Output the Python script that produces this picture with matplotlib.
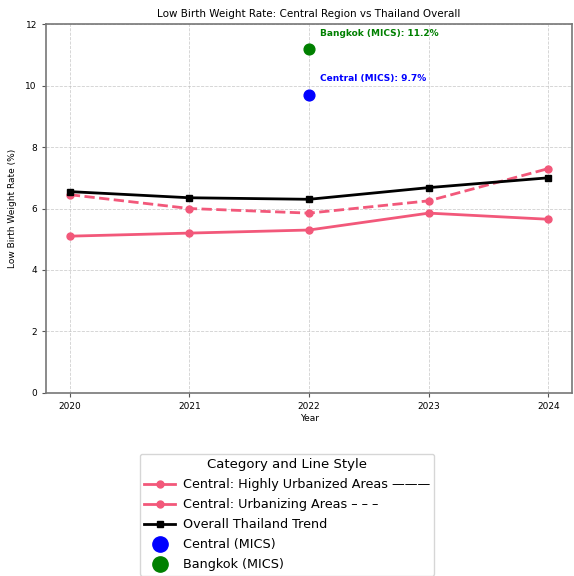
import matplotlib
matplotlib.use("Agg")
import matplotlib.pyplot as plt
from matplotlib.lines import Line2D

years = [2020, 2021, 2022, 2023, 2024]
highly_urbanized = [5.1, 5.2, 5.3, 5.85, 5.65]
urbanizing = [6.45, 6.0, 5.85, 6.25, 7.3]
thailand_overall = [6.55, 6.35, 6.3, 6.68, 7.0]

mics_year = 2022
central_mics = 9.7
bangkok_mics = 11.2

pink = "#f2587a"

fig = plt.figure(figsize=(5.74, 5.76), dpi=100)
ax = fig.add_axes([0.080, 0.318, 0.917, 0.640])

ax.plot(years, highly_urbanized, color=pink, linestyle="-", marker="o",
        markersize=5, linewidth=2)
ax.plot(years, urbanizing, color=pink, linestyle="--", marker="o",
        markersize=5, linewidth=2)
ax.plot(years, thailand_overall, color="black", linestyle="-", marker="s",
        markersize=5, linewidth=2)

ax.scatter([mics_year], [central_mics], color="blue", s=60, zorder=5)
ax.scatter([mics_year], [bangkok_mics], color="green", s=60, zorder=5)
ax.annotate(f"Central (MICS): {central_mics}%", (mics_year, central_mics),
            xytext=(8, 10), textcoords="offset points", color="blue",
            fontsize=6.5, fontweight="bold")
ax.annotate(f"Bangkok (MICS): {bangkok_mics}%", (mics_year, bangkok_mics),
            xytext=(8, 9), textcoords="offset points", color="green",
            fontsize=6.5, fontweight="bold")

ax.set_ylim(0, 12)
ax.set_xticks(years)
ax.set_xticklabels([str(y) for y in years])
ax.tick_params(labelsize=6.5, length=3, color="#555555")
ax.set_xlabel("Year", fontsize=6.5, labelpad=2)
ax.set_ylabel("Low Birth Weight Rate (%)", fontsize=6.5, labelpad=6)
ax.set_title("Low Birth Weight Rate: Central Region vs Thailand Overall",
             fontsize=7.5, pad=5)
ax.grid(True, linestyle="--", linewidth=0.6, color="#bbbbbb", alpha=0.7)
for sp in ax.spines.values():
    sp.set_color("#777777")
    sp.set_linewidth(1.2)

handles = [
    Line2D([0], [0], color=pink, marker="o", markersize=5, linewidth=2),
    Line2D([0], [0], color=pink, marker="o", markersize=5, linewidth=2),
    Line2D([0], [0], color="black", marker="s", markersize=5, linewidth=2),
    Line2D([0], [0], color="blue", marker="o", markersize=11, linestyle="none"),
    Line2D([0], [0], color="green", marker="o", markersize=11, linestyle="none"),
]
labels = [
    "Central: Highly Urbanized Areas \u2014\u2014\u2014",
    "Central: Urbanizing Areas \u2013 \u2013 \u2013",
    "Overall Thailand Trend",
    "Central (MICS)",
    "Bangkok (MICS)",
]
fig.legend(handles, labels, loc="upper center", bbox_to_anchor=(0.5, 0.212),
           title="Category and Line Style", fontsize=9.2, title_fontsize=9.5,
           handlelength=2.4, handletextpad=0.6, labelspacing=0.55,
           borderpad=0.35, borderaxespad=0, frameon=True, fancybox=True,
           edgecolor="#cccccc")

fig.savefig("out.png", dpi=100)
